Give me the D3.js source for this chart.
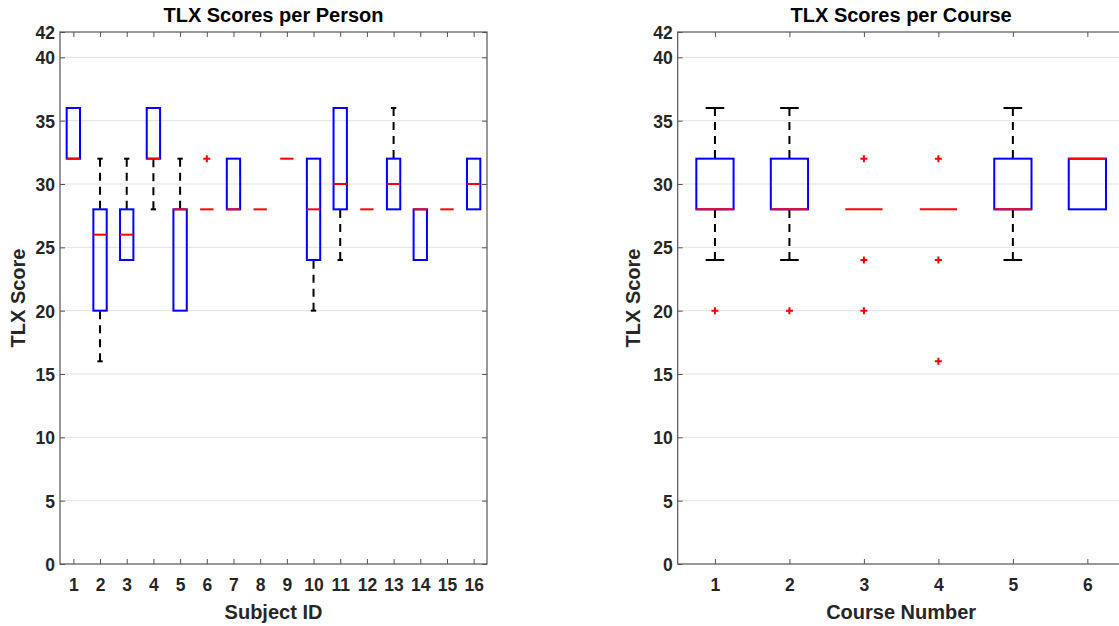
<!DOCTYPE html>
<html><head><meta charset="utf-8">
<script src="https://cdn.jsdelivr.net/npm/d3@7"></script>
<style>
body{margin:0;background:#fff;}
text{font-family:"Liberation Sans",Arial,Helvetica,sans-serif;font-weight:bold;}
</style>
</head><body>
<svg id="c" width="1119" height="626"></svg>
<script>
// ---------- data ----------
const yTicks = [0, 5, 10, 15, 20, 25, 30, 35, 40, 42];

const subjects = ["1","2","3","4","5","6","7","8","9","10","11","12","13","14","15","16"];
const subjQ1   = [32, 20, 24, 32, 20, 28, 28, 28, 32, 24, 28, 28, 28, 24, 28, 28];
const subjMed  = [32, 26, 26, 32, 28, 28, 28, 28, 32, 28, 30, 28, 30, 28, 28, 30];
const subjQ3   = [36, 28, 28, 36, 28, 28, 32, 28, 32, 32, 36, 28, 32, 28, 28, 32];
const subjLo   = [32, 16, 24, 28, 20, 28, 28, 28, 32, 20, 24, 28, 28, 24, 28, 28];
const subjHi   = [36, 32, 32, 36, 32, 28, 32, 28, 32, 32, 36, 28, 36, 28, 28, 32];
const subjOut  = [[], [], [], [], [], [32], [], [], [], [], [], [], [], [], [], []];

const courses   = ["1","2","3","4","5","6"];
const courseQ1  = [28, 28, 28, 28, 28, 28];
const courseMed = [28, 28, 28, 28, 28, 32];
const courseQ3  = [32, 32, 28, 28, 32, 32];
const courseLo  = [24, 24, 28, 28, 24, 28];
const courseHi  = [36, 36, 28, 28, 36, 32];
const courseOut = [[20], [20], [32, 24, 20], [32, 24, 16], [], []];

// ---------- drawing ----------
const svg = d3.select("#c");

function panel(o) {
  const n = o.cats.length;
  const x = d3.scaleLinear().domain([0.5, n + 0.5]).range([o.left, o.right]);
  const y = d3.scaleLinear().domain([0, 42]).range([o.bottom, o.top]);
  const g = svg.append("g");

  // grid
  g.append("g").selectAll("line").data(yTicks.filter(v => v > 0 && v < 42)).join("line")
    .attr("x1", o.left).attr("x2", o.right)
    .attr("y1", d => y(d)).attr("y2", d => y(d))
    .attr("stroke", "#e3e3e3").attr("stroke-width", 1);

  // axes
  const fmt = d => d;
  const la = g.append("g").attr("transform", `translate(${o.left},0)`)
    .call(d3.axisLeft(y).tickValues(yTicks).tickSize(-5).tickPadding(5).tickFormat(fmt));
  const ra = g.append("g").attr("transform", `translate(${o.right},0)`)
    .call(d3.axisRight(y).tickValues(yTicks).tickSize(-5).tickFormat(""));
  const ba = g.append("g").attr("transform", `translate(0,${o.bottom})`)
    .call(d3.axisBottom(x).tickValues(d3.range(1, n + 1)).tickSize(-5).tickPadding(15)
      .tickFormat(d => o.cats[d - 1]));
  const ta = g.append("g").attr("transform", `translate(0,${o.top})`)
    .call(d3.axisTop(x).tickValues(d3.range(1, n + 1)).tickSize(-5).tickFormat(""));
  [la, ra, ba, ta].forEach(a => {
    a.select(".domain").remove();
    a.selectAll(".tick line").attr("stroke", "#555").attr("stroke-width", 1);
    a.selectAll("text").attr("fill", "#262626").style("font-size", "17.5px")
      .style("font-family", '"Liberation Sans",Arial,sans-serif').style("font-weight", "bold");
  });
  la.selectAll("text").attr("dy", "0.38em");

  g.append("rect").attr("x", o.left).attr("y", o.top)
    .attr("width", o.right - o.left).attr("height", o.bottom - o.top)
    .attr("fill", "none").attr("stroke", "#555").attr("stroke-width", 1.2);

  const bw = (x(1) - x(0)) * 0.5;
  const cw = (x(1) - x(0)) * o.capFrac;
  const idx = d3.range(n);
  const cx = i => x(i + 1);

  // whiskers
  const wg = g.append("g");
  idx.forEach(i => {
    if (o.hi[i] > o.q3[i]) {
      wg.append("line").attr("x1", cx(i)).attr("x2", cx(i))
        .attr("y1", y(o.hi[i])).attr("y2", y(o.q3[i]))
        .attr("stroke", "#000").attr("stroke-width", 2).attr("stroke-dasharray", "8,6");
      wg.append("line").attr("x1", cx(i) - cw / 2).attr("x2", cx(i) + cw / 2)
        .attr("y1", y(o.hi[i])).attr("y2", y(o.hi[i]))
        .attr("stroke", "#000").attr("stroke-width", 2);
    }
    if (o.lo[i] < o.q1[i]) {
      wg.append("line").attr("x1", cx(i)).attr("x2", cx(i))
        .attr("y1", y(o.lo[i])).attr("y2", y(o.q1[i]))
        .attr("stroke", "#000").attr("stroke-width", 2).attr("stroke-dasharray", "8,6");
      wg.append("line").attr("x1", cx(i) - cw / 2).attr("x2", cx(i) + cw / 2)
        .attr("y1", y(o.lo[i])).attr("y2", y(o.lo[i]))
        .attr("stroke", "#000").attr("stroke-width", 2);
    }
  });

  // boxes
  g.append("g").selectAll("rect").data(idx).join("rect")
    .attr("x", i => cx(i) - bw / 2).attr("width", bw)
    .attr("y", i => y(o.q3[i])).attr("height", i => y(o.q1[i]) - y(o.q3[i]))
    .attr("fill", "none").attr("stroke", "#0000ff").attr("stroke-width", 2);

  // medians
  g.append("g").selectAll("line").data(idx).join("line")
    .attr("x1", i => cx(i) - bw / 2).attr("x2", i => cx(i) + bw / 2)
    .attr("y1", i => y(o.med[i])).attr("y2", i => y(o.med[i]))
    .attr("stroke", "#ff0000").attr("stroke-width", 2);

  // outliers
  const pts = [];
  idx.forEach(i => o.out[i].forEach(v => pts.push([cx(i), y(v)])));
  g.append("g").selectAll("path").data(pts).join("path")
    .attr("d", d => `M${d[0] - 3.5},${d[1]}h7M${d[0]},${d[1] - 3.5}v7`)
    .attr("stroke", "#ff0000").attr("stroke-width", 2).attr("fill", "none");

  // titles
  const mid = (o.left + o.right) / 2;
  g.append("text").attr("x", mid).attr("y", 22).attr("text-anchor", "middle")
    .attr("fill", "#000").style("font-size", "20px").text(o.title);
  g.append("text").attr("x", mid).attr("y", 619).attr("text-anchor", "middle")
    .attr("fill", "#262626").style("font-size", "20px").text(o.xlabel);
  g.append("text").attr("transform", `translate(${o.ylx},${(o.top + o.bottom) / 2}) rotate(-90)`)
    .attr("text-anchor", "middle").attr("fill", "#262626").style("font-size", "20px").text("TLX Score");
}

panel({
  left: 60, right: 487, top: 32, bottom: 564, cats: subjects,
  q1: subjQ1, med: subjMed, q3: subjQ3, lo: subjLo, hi: subjHi, out: subjOut,
  capFrac: 0.2, title: "TLX Scores per Person", xlabel: "Subject ID", ylx: 25
});
panel({
  left: 677.7, right: 1124.6, top: 32, bottom: 564, cats: courses,
  q1: courseQ1, med: courseMed, q3: courseQ3, lo: courseLo, hi: courseHi, out: courseOut,
  capFrac: 0.25, title: "TLX Scores per Course", xlabel: "Course Number", ylx: 640
});
</script>
</body></html>
